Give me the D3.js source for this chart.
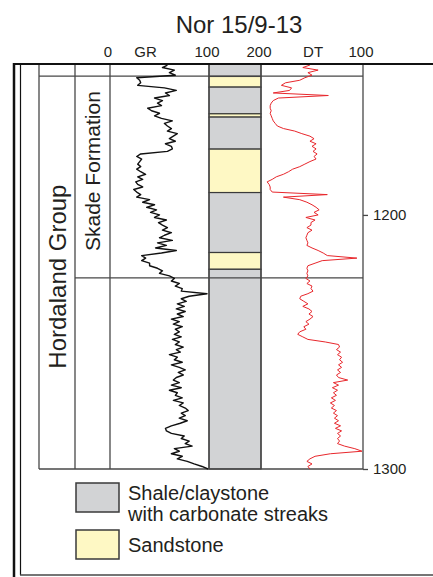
<!DOCTYPE html>
<html>
<head>
<meta charset="utf-8">
<script src="https://cdn.jsdelivr.net/npm/d3@7"></script>
<style>
  body { margin: 0; background: #fff; }
  svg { display: block; font-family: "Liberation Sans", Arial, sans-serif; }
</style>
</head>
<body>
<svg class="log"></svg>
<script>
// Depth samples (m) shared by both curves, one per metre
const depths = [
  1141,1142,1143,1144,1145,1146,1147,1148,1149,1150,1151,1152,1153,1154,1155,1156,1157,1158,1159,1160,
  1161,1162,1163,1164,1165,1166,1167,1168,1169,1170,1171,1172,1173,1174,1175,1176,1177,1178,1179,1180,
  1181,1182,1183,1184,1185,1186,1187,1188,1189,1190,1191,1192,1193,1194,1195,1196,1197,1198,1199,1200,
  1201,1202,1203,1204,1205,1206,1207,1208,1209,1210,1211,1212,1213,1214,1215,1216,1217,1218,1219,1220,
  1221,1222,1223,1224,1225,1226,1227,1228,1229,1230,1231,1232,1233,1234,1235,1236,1237,1238,1239,1240,
  1241,1242,1243,1244,1245,1246,1247,1248,1249,1250,1251,1252,1253,1254,1255,1256,1257,1258,1259,1260,
  1261,1262,1263,1264,1265,1266,1267,1268,1269,1270,1271,1272,1273,1274,1275,1276,1277,1278,1279,1280,
  1281,1282,1283,1284,1285,1286,1287,1288,1289,1290,1291,1292,1293,1294,1295,1296,1297,1298,1299,1300
];

// Gamma ray (API), 0-100 scale
const gr = [
  58,53,65,60,66,27,30,31,28,55,67,56,60,45,53,48,52,38,42,50,
  45,52,63,55,58,62,58,68,64,60,66,56,62,63,58,31,27,32,30,28,
  31,27,31,36,28,33,26,28,33,24,27,31,27,40,33,45,37,47,41,50,
  45,57,49,53,58,53,62,55,50,63,48,57,46,67,52,32,36,32,40,40,
  48,53,50,60,65,62,70,66,73,72,98,80,72,77,68,75,67,76,68,74,
  62,70,64,73,66,70,65,72,63,70,66,74,67,71,60,68,65,73,62,70,
  76,69,74,67,64,70,62,72,60,68,66,73,64,74,70,76,79,72,76,70,
  78,71,62,56,57,62,75,72,80,76,83,65,70,62,73,68,78,85,93,99
];

// Sonic (us/ft), 200-100 scale
const dt = [
  152,159,144,154,150,157,162,176,180,170,172,188,134,183,188,190,191,191,190,191,
  190,189,188,186,184,178,167,160,152,148,152,146,150,146,149,145,148,146,152,157,
  162,169,173,178,185,189,194,192,191,191,189,135,178,162,155,150,146,143,148,144,
  156,147,151,151,155,150,154,155,156,155,154,155,150,144,139,135,106,140,147,154,
  155,154,155,154,156,152,155,150,151,149,154,161,162,158,154,159,153,150,153,149,
  152,156,153,158,156,162,164,159,154,137,124,123,126,122,125,121,123,120,124,121,
  125,122,126,124,115,129,124,130,125,129,126,131,127,132,128,131,126,129,125,128,
  124,128,122,127,121,125,122,125,123,125,118,108,101,132,147,152,155,150,154,152
];

// Lithology intervals
const lithTop  = [1140.6, 1145.5, 1149.7, 1160.2, 1161.5, 1174.1, 1191.2, 1214.8, 1221.4];
const lithBase = [1145.5, 1149.7, 1160.2, 1161.5, 1174.1, 1191.2, 1214.8, 1221.4, 1300];
const lithType = ["shale", "sand", "shale", "sand", "shale", "sand", "shale", "sand", "shale"];

// Stratigraphic units
const unitNames = ["Hordaland Group", "Skade Formation"];
const unitTops  = [1145.4, 1145.4];
const unitBases = [1300, 1224.8];

// Header labels and where they sit on each track scale
const grHeader = ["0", "GR", "100"];
const grHeaderAt = [0, 38, 100];
const dtHeader = ["200", "DT", "100"];
const dtHeaderAt = [200, 147, 100];
const depthTicks = [1200, 1300];

const legendLabels = [["Shale/claystone", "with carbonate streaks"], ["Sandstone"]];
const legendTypes = ["shale", "sand"];

const width = 433;
const height = 577;
const fill = { shale: "#d2d3d5", sand: "#fef8c4" };
const ink = "#231f20";
const gridCol = "#474747";

const svg = d3.select(".log")
    .attr("width", width)
    .attr("height", height);

// depth scale and track scales
const y = d3.scaleLinear().domain([1140.6, 1300]).range([64, 469]);
const xGr = d3.scaleLinear().domain([0, 100]).range([110, 209]);
const xDt = d3.scaleLinear().domain([200, 100]).range([261, 363]);

// title
svg.append("text")
    .attr("x", 239).attr("y", 33)
    .attr("text-anchor", "middle")
    .attr("font-size", 24)
    .attr("fill", ink)
    .text("Nor 15/9-13");

// header labels
svg.selectAll(".grh")
    .data(grHeader)
    .enter().append("text")
    .attr("class", "grh")
    .attr("x", (d, i) => xGr(grHeaderAt[i]) - 2)
    .attr("y", 57)
    .attr("text-anchor", "middle")
    .attr("font-size", 15)
    .attr("fill", ink)
    .text(d => d);

svg.selectAll(".dth")
    .data(dtHeader)
    .enter().append("text")
    .attr("class", "dth")
    .attr("x", (d, i) => xDt(dtHeaderAt[i]) - 2)
    .attr("y", 57)
    .attr("text-anchor", "middle")
    .attr("font-size", 15)
    .attr("fill", ink)
    .text(d => d);

// lithology column
const lith = lithType.map((t, i) => ({ type: t, top: lithTop[i], base: lithBase[i] }));
svg.selectAll(".lith")
    .data(lith)
    .enter().append("rect")
    .attr("class", "lith")
    .attr("x", xGr(100))
    .attr("width", xDt(200) - xGr(100))
    .attr("y", d => y(d.top))
    .attr("height", d => y(d.base) - y(d.top))
    .attr("fill", d => fill[d.type])
    .attr("stroke", "#3a3a3a")
    .attr("stroke-width", 1.2);

// grid lines
const grid = svg.append("g")
    .attr("stroke", gridCol)
    .attr("stroke-width", 1.3)
    .attr("fill", "none");

[39, 75, 110, 209, 261, 363].forEach(x => {
    grid.append("line").attr("x1", x).attr("x2", x).attr("y1", 64).attr("y2", y(1300));
});
grid.append("line").attr("x1", 39).attr("x2", 363)
    .attr("y1", y(unitTops[0])).attr("y2", y(unitTops[0]));
grid.append("line").attr("x1", 75).attr("x2", 363)
    .attr("y1", y(unitBases[1])).attr("y2", y(unitBases[1]));
grid.append("line").attr("x1", 39).attr("x2", 363)
    .attr("y1", y(1300)).attr("y2", y(1300));

// log curves
const pts = depths.map((d, i) => ({ d: d, gr: gr[i], dt: dt[i] }));

svg.append("path")
    .datum(pts)
    .attr("fill", "none")
    .attr("stroke", "#111")
    .attr("stroke-width", 1.4)
    .attr("stroke-linejoin", "round")
    .attr("d", d3.line().x(d => xGr(d.gr)).y(d => y(d.d)));

svg.append("path")
    .datum(pts)
    .attr("fill", "none")
    .attr("stroke", "#e8272c")
    .attr("stroke-width", 1)
    .attr("stroke-linejoin", "round")
    .attr("d", d3.line().x(d => xDt(d.dt)).y(d => y(d.d)));

// unit names
const unitX = [57, 92.5];
const unitSize = [24, 21];
const unitShift = [4, -6];
svg.selectAll(".unit")
    .data(unitNames)
    .enter().append("text")
    .attr("class", "unit")
    .attr("transform", (d, i) => {
        const cy = (y(unitTops[i]) + y(unitBases[i])) / 2 + unitShift[i];
        return `translate(${unitX[i] + unitSize[i] * 0.36},${cy}) rotate(-90)`;
    })
    .attr("text-anchor", "middle")
    .attr("font-size", (d, i) => unitSize[i])
    .attr("fill", ink)
    .text(d => d);

// depth axis
const axis = svg.append("g")
    .attr("transform", "translate(363,0)")
    .call(d3.axisRight(y).tickValues(depthTicks).tickSize(5).tickPadding(5).tickFormat(d3.format("d")));
axis.select(".domain").remove();
axis.selectAll("line").attr("stroke", gridCol).attr("stroke-width", 1.3);
axis.selectAll("text")
    .attr("font-size", 15)
    .attr("font-family", "Liberation Sans, Arial, sans-serif")
    .attr("fill", ink);

// outer frame
const frame = svg.append("g").attr("fill", "none").attr("stroke", "#111");
frame.append("line").attr("x1", 14).attr("x2", 14).attr("y1", 63).attr("y2", height).attr("stroke-width", 2.5);
frame.append("line").attr("x1", 20.5).attr("x2", 20.5).attr("y1", 64).attr("y2", 575).attr("stroke-width", 1.2);
frame.append("line").attr("x1", 13).attr("x2", width).attr("y1", 64).attr("y2", 64).attr("stroke-width", 1.8);
frame.append("line").attr("x1", 20).attr("x2", width).attr("y1", 575).attr("y2", 575)
    .attr("stroke", gridCol).attr("stroke-width", 1.3);

// legend
const legend = svg.selectAll(".legend")
    .data(legendTypes)
    .enter().append("g")
    .attr("class", "legend")
    .attr("transform", (d, i) => `translate(76,${483 + i * 47})`);

legend.append("rect")
    .attr("width", 43).attr("height", 29)
    .attr("fill", d => fill[d])
    .attr("stroke", "#3a3a3a")
    .attr("stroke-width", 1.5);

// one-line labels sit centred on the swatch, two-line labels start higher
legend.append("text")
    .attr("x", 52)
    .attr("y", (d, i) => legendLabels[i].length > 1 ? 16.5 : 22)
    .attr("font-size", 20)
    .attr("fill", ink)
    .selectAll("tspan")
    .data((d, i) => legendLabels[i])
    .enter().append("tspan")
    .attr("x", 52)
    .attr("dy", (d, i) => i === 0 ? 0 : 21)
    .text(d => d);
</script>
</body>
</html>
